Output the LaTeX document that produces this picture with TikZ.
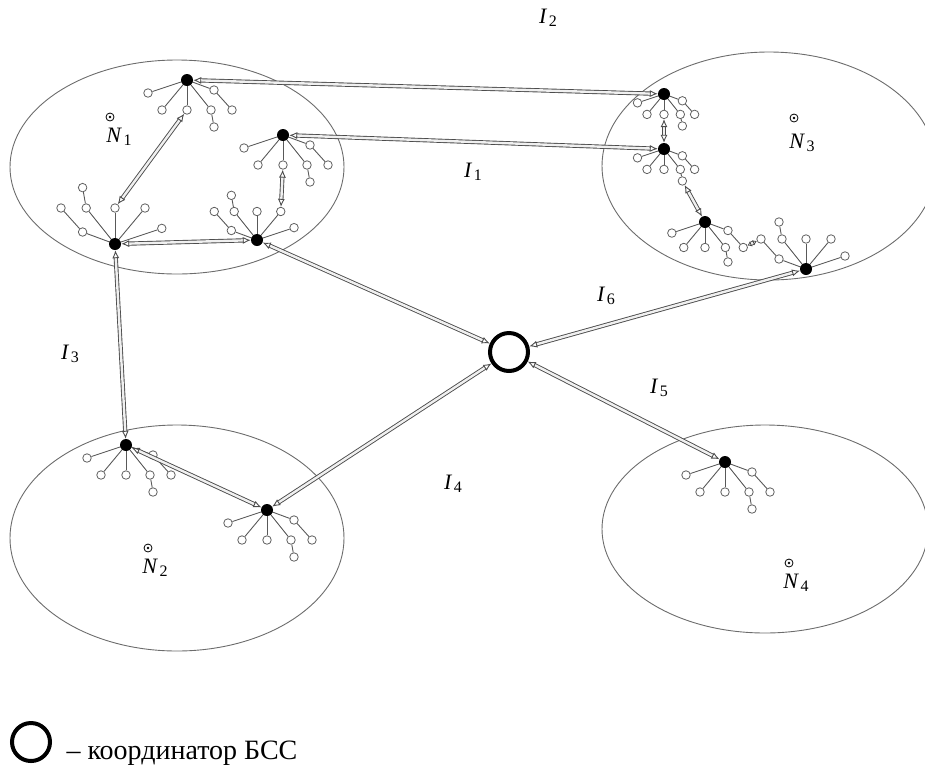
\documentclass[tikz,border=0pt]{standalone}
\usepackage{fontspec}
\setmainfont{Liberation Serif}
\usetikzlibrary{arrows.meta}

\tikzset{
  hubdot/.style={circle, fill=black, inner sep=0pt, minimum size=12pt},
  leaf/.style={circle, draw=gray!75!black, fill=white, line width=0.8pt, inner sep=0pt, minimum size=8.5pt},
  twig/.style={draw=gray!70!black, line width=0.9pt},
  link/.style={draw=gray!60!black, line width=0.9pt, double=white!88!gray, double distance=2.4pt,
    {Latex[open,length=8pt,width=7pt]}-{Latex[open,length=8pt,width=7pt]}},
  shortlink/.style={link, {Latex[open,length=4pt,width=6pt]}-{Latex[open,length=4pt,width=6pt]}},
  zone/.style={draw=gray!85!black, line width=0.9pt},
  coordring/.style={circle, draw=black, line width=4pt, minimum size=38pt, inner sep=0pt},
  lbl/.style={font=\fontsize{22}{22}\selectfont}
}

% interface label: italic letter with a roman index
\newcommand\ilab[2]{\textit{#1}\kern1.5pt\raisebox{-0.35ex}{\fontsize{16}{16}\selectfont #2}}

% a sensor cluster: hub with seven leaf nodes, two of them chained
\newcommand\hubtree[5]{%
  \begin{scope}[shift={(#2,#3)}, rotate=#4, scale=#5]
    \node[leaf] (#1a) at (-39,13) {};
    \node[leaf] (#1b) at (-25,30) {};
    \node[leaf] (#1c) at (0,30) {};
    \node[leaf] (#1d) at (24,30) {};
    \node[leaf] (#1dd) at (27,47) {};
    \node[leaf] (#1e) at (27,10) {};
    \node[leaf] (#1ee) at (45,30) {};
    \coordinate (#1o) at (0,0);
  \end{scope}
  \draw[twig] (#1o) -- (#1a);
  \draw[twig] (#1o) -- (#1b);
  \draw[twig] (#1o) -- (#1c);
  \draw[twig] (#1o) -- (#1d);
  \draw[twig] (#1d) -- (#1dd);
  \draw[twig] (#1o) -- (#1e);
  \draw[twig] (#1e) -- (#1ee);
  \node[hubdot] (#1) at (#1o) {};
}

% network centre marker (circled dot)
\newcommand\netmark[1]{%
  \draw[line width=0.8pt] #1 circle (4);
  \fill #1 circle (1.4);
}

\begin{document}
\begin{tikzpicture}[x=1pt,y=-1pt]
\useasboundingbox (0,0) rectangle (925,764);

% network zones
\draw[zone] (177,167) ellipse (167 and 107);
\draw[zone] (769,166) ellipse (167 and 114);
\draw[zone] (177,538) ellipse (167 and 113);
\draw[zone] (765,529) ellipse (163 and 104);

% zone names
\netmark{(110,117)}
\node[lbl] (n1) at (119,137) {\ilab{N}{1}};
\netmark{(794,118)}
\node[lbl] (n3) at (802,143) {\ilab{N}{3}};
\netmark{(148,548)}
\node[lbl] (n2) at (155,568) {\ilab{N}{2}};
\netmark{(789,563)}
\node[lbl] (n4) at (796,583) {\ilab{N}{4}};

% clusters
\hubtree{A}{187}{80}{0}{1}
\hubtree{B}{283}{135}{0}{1}
\hubtree{C}{115}{244}{180}{1.2}
\hubtree{D}{257}{240}{180}{0.95}
\hubtree{P}{126}{445}{0}{1}
\hubtree{Q}{267}{510}{0}{1}
\hubtree{R}{664}{94}{0}{0.68}
\hubtree{S}{664}{149}{0}{0.68}
\hubtree{T}{705}{222}{0}{0.85}
\hubtree{U}{806}{269}{180}{1}
\hubtree{V}{725}{462}{0}{1}

% coordinator
\node[coordring] (bss) at (509,352) {};

% links
\draw[link] (A) -- (R);
\draw[link] (B) -- (S);
\draw[link] (Ac) -- (Cc);
\draw[link] (Bc) -- (Db);
\draw[link] (C) -- (D);
\draw[link] (D) -- (bss);
\draw[link] (C) -- (P);
\draw[link] (P) -- (Q);
\draw[link] (Q) -- (bss);
\draw[link] (U) -- (bss);
\draw[link] (bss) -- (V);
\draw[link] (Rc) -- (S);
\draw[link] (Sdd) -- (T);
\draw[shortlink] (Tee) -- (Uee);

% interface labels
\node[lbl] (i2) at (548,18) {\ilab{I}{2}};
\node[lbl] (i1) at (473,172) {\ilab{I}{1}};
\node[lbl] (i6) at (606,296) {\ilab{I}{6}};
\node[lbl] (i3) at (70,354) {\ilab{I}{3}};
\node[lbl] (i5) at (659,388) {\ilab{I}{5}};
\node[lbl] (i4) at (453,484) {\ilab{I}{4}};

% legend
\node[coordring] (key) at (31,742) {};
\node[anchor=base west, font=\fontsize{28}{28}\selectfont] (keytext) at (63,759) {– координатор БСС};
\end{tikzpicture}
\end{document}
